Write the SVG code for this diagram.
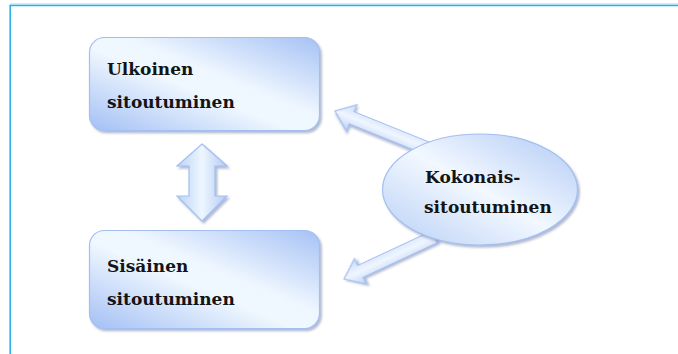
<svg xmlns="http://www.w3.org/2000/svg" width="678" height="354" viewBox="0 0 678 354">
  <defs>
    <style>
      .frame { stroke: #2bb3e6; stroke-width: 1.6; fill: none; }
      .frame-hi { stroke: #a6dcf2; stroke-width: 1; fill: none; }
      .shape { stroke: #a3bff2; stroke-width: 1.2; filter: url(#shadow); }
      .label { font-family: "DejaVu Serif", "Liberation Serif", serif; font-weight: bold; font-size: 17px; fill: #141414; }
    </style>
    <linearGradient id="boxFill" x1="0" y1="1" x2="1" y2="0">
      <stop offset="0" stop-color="#a3bff4"/>
      <stop offset="0.45" stop-color="#f0f8ff"/>
      <stop offset="0.58" stop-color="#eef6ff"/>
      <stop offset="1" stop-color="#a5c1f4"/>
    </linearGradient>
    <linearGradient id="ovalFill" x1="0" y1="1" x2="1" y2="0">
      <stop offset="0" stop-color="#b8cff6"/>
      <stop offset="0.5" stop-color="#f2f8ff"/>
      <stop offset="1" stop-color="#b0c9f5"/>
    </linearGradient>
    <linearGradient id="arrowFill" x1="0" y1="0" x2="0" y2="1">
      <stop offset="0" stop-color="#c8dbf8"/>
      <stop offset="0.5" stop-color="#f0f6ff"/>
      <stop offset="1" stop-color="#bcd2f6"/>
    </linearGradient>
    <linearGradient id="dblFill" x1="0" y1="0" x2="1" y2="0">
      <stop offset="0" stop-color="#bcd2f6"/>
      <stop offset="0.5" stop-color="#eef6ff"/>
      <stop offset="1" stop-color="#b3cbf4"/>
    </linearGradient>
    <filter id="shadow" x="-20%" y="-20%" width="140%" height="140%">
      <feDropShadow dx="1.8" dy="2.2" stdDeviation="1.2" flood-color="#6f82aa" flood-opacity="0.55"/>
    </filter>
  </defs>

  <!-- page frame -->
  <line class="frame-hi" x1="10" y1="4" x2="678" y2="4"/>
  <line class="frame" x1="9.5" y1="5.5" x2="678" y2="5.5"/>
  <line class="frame" x1="10.2" y1="5" x2="10.2" y2="354"/>

  <!-- connectors -->
  <g id="connectors">
    <path id="arrow-to-ulkoinen" class="shape" fill="url(#arrowFill)"
          transform="translate(335,111) rotate(22)"
          d="M0,0 L18,-14 L18,-6.5 L110,-6.5 L110,6.5 L18,6.5 L18,14 Z"/>
    <path id="arrow-to-sisainen" class="shape" fill="url(#arrowFill)"
          transform="translate(344,279) rotate(-25)"
          d="M0,0 L18,-14 L18,-6.5 L100,-6.5 L100,6.5 L18,6.5 L18,14 Z"/>
    <path id="arrow-between-boxes" class="shape" fill="url(#dblFill)"
          d="M202,144 L227,166 L215,166 L215,196 L227,196 L202,221 L177,196 L189,196 L189,166 L177,166 Z"/>
  </g>

  <g id="ulkoinen">
    <rect class="shape" x="89.5" y="37.5" width="230" height="93" rx="15" fill="url(#boxFill)"/>
    <text class="label" x="107" y="75">Ulkoinen</text>
    <text class="label" x="107" y="108">sitoutuminen</text>
  </g>

  <g id="sisainen">
    <rect class="shape" x="89.5" y="230.5" width="230" height="98" rx="15" fill="url(#boxFill)"/>
    <text class="label" x="107" y="272">Sisäinen</text>
    <text class="label" x="107" y="305">sitoutuminen</text>
  </g>

  <g id="kokonais">
    <ellipse class="shape" cx="480" cy="189.5" rx="97.5" ry="55.5" fill="url(#ovalFill)"/>
    <text class="label" x="425" y="183">Kokonais-</text>
    <text class="label" x="424" y="213">sitoutuminen</text>
  </g>
</svg>
